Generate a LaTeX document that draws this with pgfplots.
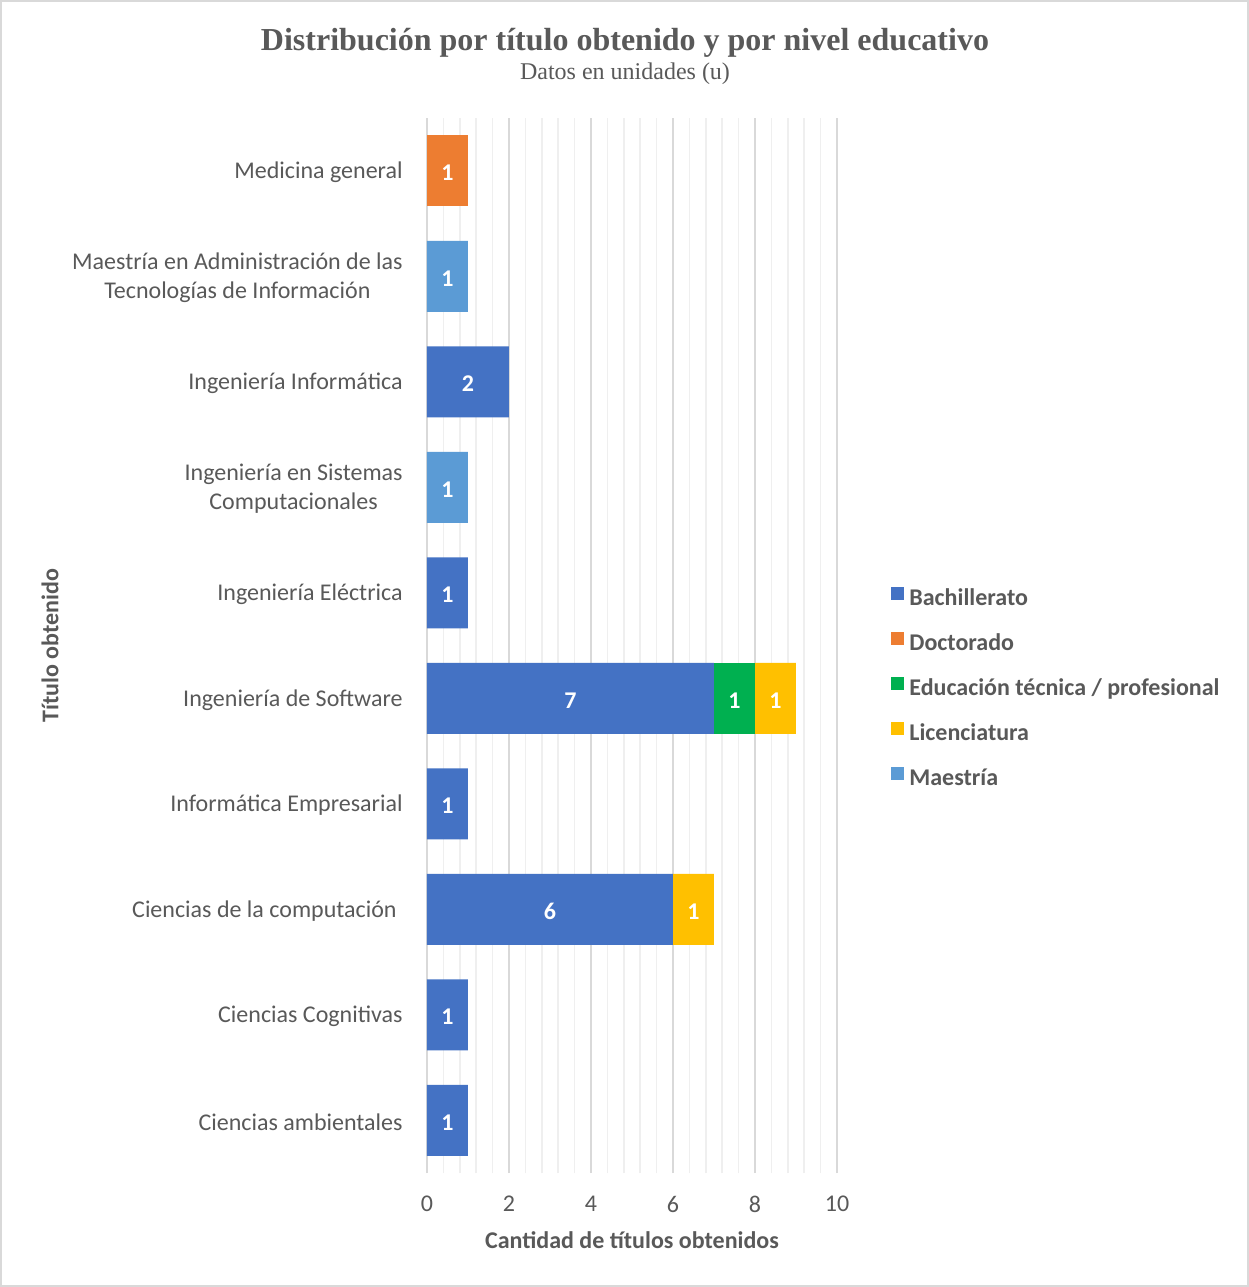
\documentclass[border=0pt]{standalone}
\usepackage{pgfplots}
\usepackage{pgfplotstable}
\usepackage{fontspec}
\pgfplotsset{compat=1.18}
\setmainfont{Carlito}
\newfontfamily\titlefont{Liberation Serif}

\definecolor{txt}{HTML}{595959}
\definecolor{cBach}{HTML}{4472C4}
\definecolor{cDoc}{HTML}{ED7D31}
\definecolor{cEdu}{HTML}{00B050}
\definecolor{cLic}{HTML}{FFC000}
\definecolor{cMae}{HTML}{5B9BD5}
\definecolor{gmaj}{HTML}{D9D9D9}
\definecolor{gmin}{HTML}{EFEFEF}

% titles per level of education, one row per degree (bottom to top)
\pgfplotstableread{
y bach doc edu lic mae
0 1 0 0 0 0
1 1 0 0 0 0
2 6 0 0 1 0
3 1 0 0 0 0
4 7 0 1 1 0
5 1 0 0 0 0
6 0 0 0 0 1
7 2 0 0 0 0
8 0 0 0 0 1
9 0 1 0 0 0
}\grados

\begin{document}
\begin{tikzpicture}
\useasboundingbox (0,0) rectangle (624.5pt,643.5pt);
\fill[white] (0,0) rectangle (624.5pt,643.5pt);
\draw[gmaj, line width=0.8pt] (0.4pt,0.4pt) rectangle (624.1pt,643.1pt);

\node[font=\titlefont\bfseries\fontsize{16}{19}\selectfont, text=txt] at (312.5pt,622pt) {Distribución por título obtenido y por nivel educativo};
\node[font=\titlefont\fontsize{12}{14}\selectfont, text=txt] at (312.5pt,606.5pt) {Datos en unidades (u)};

\begin{axis}[
  at={(213.5pt,57pt)}, anchor=south west,
  scale only axis, width=205pt, height=527.5pt,
  xbar stacked, bar width=35.5pt,
  xmin=0, xmax=10, ymin=-0.5, ymax=9.5,
  xtick={0,2,...,10}, minor x tick num=4,
  ytick={0,...,9},
  yticklabels={
    {Ciencias ambientales},
    {Ciencias Cognitivas},
    {Ciencias de la computación\kern3pt},
    {Informática Empresarial},
    {Ingeniería de Software},
    {Ingeniería Eléctrica},
    {Ingeniería en Sistemas\\Computacionales},
    {Ingeniería Informática},
    {Maestría en Administración de las\\Tecnologías de Información},
    {Medicina general}},
  font=\fontsize{12}{14.5}\selectfont,
  xmajorgrids, xminorgrids,
  major grid style={gmaj, line width=0.8pt},
  minor grid style={gmin, line width=0.8pt},
  axis line style={draw=none},
  tick style={draw=none},
  /pgf/number format/assume math mode=true,
  xticklabel style={text=txt, yshift=-8pt},
  yticklabel style={text=txt, align=center, anchor=east, inner sep=0pt, xshift=-12pt, yshift=-0.8pt},
  xlabel={\bfseries Cantidad de títulos obtenidos},
  ylabel={\bfseries Título obtenido},
  xlabel style={text=txt, at={(axis description cs:0.5,-0.0635)}, anchor=center},
  ylabel style={text=txt, at={(axis description cs:-0.9195,0.5)}, anchor=center, rotate=0},
  point meta=explicit,
  nodes near coords={\pgfmathfloatifflags{\pgfplotspointmeta}{0}{}{\pgfmathprintnumber{\pgfplotspointmeta}}},
  every node near coord/.append style={font=\bfseries\fontsize{12}{14}\selectfont, text=white,
    anchor=center, yshift=-1pt},
  legend style={at={(axis description cs:1.1317,0.4587)}, anchor=west, draw=none, fill=none,
    inner sep=0pt, row sep=10.5pt, column sep=2.5pt,
    nodes={inner sep=0pt, text height=9pt, text depth=3pt, text=txt, font=\bfseries\fontsize{12}{14}\selectfont}},
  legend cell align=left,
  legend image code/.code={\fill[#1] (0pt,-0.5pt) rectangle (6.5pt,6pt);},
]
\addplot[fill=cBach, draw=none] table[x=bach, y=y, meta=bach] {\grados};
\addplot[fill=cDoc, draw=none] table[x=doc, y=y, meta=doc] {\grados};
\addplot[fill=cEdu, draw=none] table[x=edu, y=y, meta=edu] {\grados};
\addplot[fill=cLic, draw=none] table[x=lic, y=y, meta=lic] {\grados};
\addplot[fill=cMae, draw=none] table[x=mae, y=y, meta=mae] {\grados};
\legend{Bachillerato, Doctorado, Educación técnica / profesional, Licenciatura, Maestría}
\end{axis}
\end{tikzpicture}
\end{document}
